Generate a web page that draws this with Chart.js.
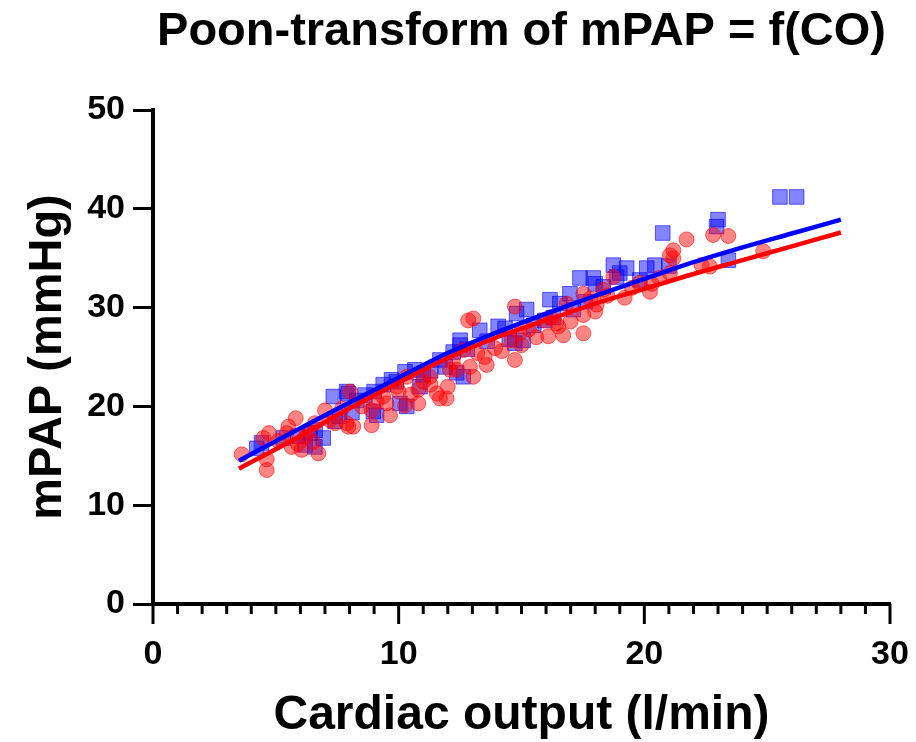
<!DOCTYPE html>
<html>
<head>
<meta charset="utf-8">
<script src="https://cdn.jsdelivr.net/npm/chart.js@4.4.1/dist/chart.umd.min.js"></script>
<style>
  html, body { margin: 0; padding: 0; background: #fff; }
</style>
</head>
<body>
<canvas id="poonChart" width="916" height="742"></canvas>
<script>
// Measured points (cardiac output l/min, mPAP mmHg)
const redCO = [3.61, 4.63, 4.63, 4.49, 4.72, 5.44, 5.51, 5.81, 5.64, 6.05, 6.19, 6.52, 6.73, 6.59, 7.0, 7.41, 7.95, 7.88,
  8.02, 8.15, 8.9, 8.9, 9.37, 9.65, 9.92, 10.26, 10.33, 10.8, 10.8, 11.27, 11.55, 11.68, 11.95, 12.09, 12.36, 12.63,
  12.83, 13.04, 13.04, 13.58, 13.92, 14.6, 14.73, 14.73, 14.94, 15.89, 16.09, 16.5, 16.7, 16.84, 17.52, 17.52, 17.52,
  18.06, 18.33, 18.74, 20.23, 21.04, 21.18, 21.04, 21.18, 21.72, 22.33, 22.67, 22.8, 23.42, 24.84,
  9.1, 10.0, 11.0, 12.0, 13.5, 15.3, 16.2, 19.2, 19.8, 20.6, 18.0,
  5.1, 5.9, 6.3, 7.2, 7.7, 8.5, 9.5, 10.5, 11.3, 12.2, 12.9, 13.2, 14.2, 15.0, 15.6, 17.0, 17.8, 18.5, 19.5, 20.3, 16.4];
const redPAP = [15.15, 13.56, 14.65, 16.8, 17.3, 17.3, 17.95, 18.8, 15.9, 15.6, 16.9, 16.4, 15.25, 18.3, 19.6, 18.3, 17.95, 18.3,
  21.5, 17.95, 18.1, 19.6, 21.0, 19.1, 22.0, 20.1, 23.0, 20.3, 21.7, 23.0, 21.3, 20.8, 20.8, 23.7, 23.7, 25.7,
  28.7, 28.9, 23.0, 24.2, 25.9, 26.7, 30.1, 24.7, 27.4, 28.7, 27.1, 28.1, 27.2, 30.4, 31.4, 29.25, 27.4,
  30.3, 31.8, 33.1, 31.6, 35.3, 35.0, 33.5, 35.8, 36.9, 34.3, 34.15, 37.35, 37.25, 35.7,
  20.5, 21.5, 22.5, 22.0, 25.0, 27.8, 29.0, 31.0, 32.5, 33.0, 29.6,
  16.5, 16.2, 17.5, 18.6, 19.8, 20.0, 20.3, 21.2, 22.2, 24.5, 24.0, 25.4, 25.6, 26.2, 27.0, 28.6, 30.9, 31.2, 32.0, 32.4, 28.4];

const blueCO = [4.22, 4.42, 6.19, 6.59, 6.93, 6.39, 7.34, 7.95, 7.41, 7.88, 8.63, 8.97, 9.1, 9.37, 9.71, 10.05, 10.33,
  10.26, 10.66, 10.87, 11.68, 12.22, 12.5, 12.63, 12.36, 12.5, 13.3, 14.05, 14.33, 15.21, 14.8, 14.73, 15.07, 16.16,
  16.56, 15.95, 17.38, 17.92, 18.74, 19.28, 20.1, 20.43, 19.82, 18.87, 18.33, 17.11, 16.97, 23.0, 22.94, 25.52, 26.2,
  23.42, 20.75,
  8.3, 9.0, 9.9, 11.0, 11.3, 11.9, 12.8, 13.6, 14.5, 15.5, 16.3, 17.6, 18.0, 19.0, 21.0, 5.3, 5.9, 6.6, 7.6, 8.1];
const bluePAP = [15.75, 16.3, 16.1, 15.9, 16.8, 17.3, 21.0, 21.3, 18.5, 21.5, 21.15, 19.5, 19.1, 22.2, 22.7, 20.3, 20.0,
  23.5, 23.7, 22.0, 24.7, 25.5, 26.2, 23.0, 23.4, 26.7, 27.7, 28.1, 27.9, 29.8, 29.4, 26.4, 26.7, 30.8,
  30.4, 28.7, 33.0, 33.0, 34.3, 34.0, 34.0, 34.3, 32.8, 33.1, 32.1, 29.8, 31.4, 38.9, 38.2, 41.2, 41.2,
  34.8, 37.55,
  20.6, 21.5, 22.5, 23.2, 23.6, 24.0, 25.8, 26.6, 26.8, 28.2, 29.0, 30.6, 32.4, 33.5, 34.2, 16.8, 17.0, 17.6, 19.0, 19.4];

// Fitted curves
const fitCO = [3.5, 6, 8, 10, 12, 14, 16, 18, 20, 22, 24, 26, 28];
const fitBlue = [14.5, 17.8, 20.4, 22.9, 25.4, 27.5, 29.4, 31.2, 32.9, 34.6, 36.1, 37.5, 38.9];
const fitRed = [13.7, 17.0, 19.8, 22.4, 24.9, 27.0, 28.7, 30.4, 31.9, 33.4, 34.8, 36.2, 37.6];

const xTicks = [0, 10, 20, 30];

const pts = (xs, ys) => xs.map((x, i) => ({ x: x, y: ys[i] }));
const FONT = "'Liberation Sans', Arial, sans-serif";

// draws the x axis tick marks: long at labelled values, short in between
const xTickMarks = {
  id: 'xTickMarks',
  afterDraw(chart) {
    const sx = chart.scales.x;
    const ctx = chart.ctx;
    ctx.save();
    ctx.strokeStyle = '#000';
    ctx.lineWidth = 3;
    sx.ticks.forEach(t => {
      const px = sx.getPixelForValue(t.value);
      const len = xTicks.includes(t.value) ? 20 : 10;
      ctx.beginPath();
      ctx.moveTo(px, sx.top);
      ctx.lineTo(px, sx.top + len);
      ctx.stroke();
    });
    ctx.restore();
  }
};

new Chart(document.getElementById('poonChart'), {
  type: 'scatter',
  data: {
    datasets: [
      {
        data: pts(fitCO, fitRed),
        showLine: true,
        borderColor: '#ff0000',
        borderWidth: 4.5,
        pointRadius: 0,
        cubicInterpolationMode: 'monotone',
        order: 0
      },
      {
        data: pts(fitCO, fitBlue),
        showLine: true,
        borderColor: '#0000ff',
        borderWidth: 4.5,
        pointRadius: 0,
        cubicInterpolationMode: 'monotone',
        order: 1
      },
      {
        data: pts(redCO, redPAP),
        pointStyle: 'circle',
        pointRadius: 7.5,
        backgroundColor: 'rgba(255,0,0,0.48)',
        borderColor: 'rgba(255,0,0,0.55)',
        borderWidth: 1,
        order: 2
      },
      {
        data: pts(blueCO, bluePAP),
        pointStyle: 'rect',
        pointRadius: 10.3,
        backgroundColor: 'rgba(0,0,255,0.48)',
        borderColor: 'rgba(0,0,255,0.6)',
        borderWidth: 1,
        order: 3
      }
    ]
  },
  options: {
    responsive: false,
    animation: false,
    layout: { padding: 0 },
    plugins: {
      legend: { display: false },
      tooltip: { enabled: false },
      title: {
        display: true,
        fullSize: false,
        text: 'Poon-transform of mPAP = f(CO)',
        color: '#000',
        font: { family: FONT, size: 47, weight: 'bold', lineHeight: 1.2 },
        padding: { top: 4, bottom: 49.6 }
      }
    },
    scales: {
      x: {
        type: 'linear',
        min: 0,
        max: 30,
        afterFit(s) { s.height = 138; s.paddingRight = 26; },
        border: { display: true, color: '#000', width: 4 },
        grid: { drawOnChartArea: false, tickLength: 20, tickColor: 'transparent' },
        ticks: {
          stepSize: 1,
          autoSkip: false,
          maxRotation: 0,
          padding: 10,
          color: '#000',
          font: { family: FONT, size: 34, weight: 'bold' },
          callback: v => xTicks.includes(v) ? String(v) : ''
        },
        title: {
          display: true,
          text: 'Cardiac output (l/min)',
          color: '#000',
          font: { family: FONT, size: 48, weight: 'bold', lineHeight: 1.1 },
          padding: { top: 0, bottom: 0 }
        }
      },
      y: {
        min: 0,
        max: 50,
        afterFit(s) { s.width = 153; },
        border: { display: true, color: '#000', width: 4 },
        grid: { drawOnChartArea: false, tickLength: 20, tickWidth: 3, tickColor: '#000' },
        ticks: {
          stepSize: 10,
          padding: 8,
          color: '#000',
          font: { family: FONT, size: 34, weight: 'bold' }
        },
        title: {
          display: true,
          text: 'mPAP (mmHg)',
          color: '#000',
          font: { family: FONT, size: 47, weight: 'bold', lineHeight: 1.2 },
          padding: { top: 20, bottom: 0 }
        }
      }
    }
  },
  plugins: [xTickMarks]
});
</script>
</body>
</html>
